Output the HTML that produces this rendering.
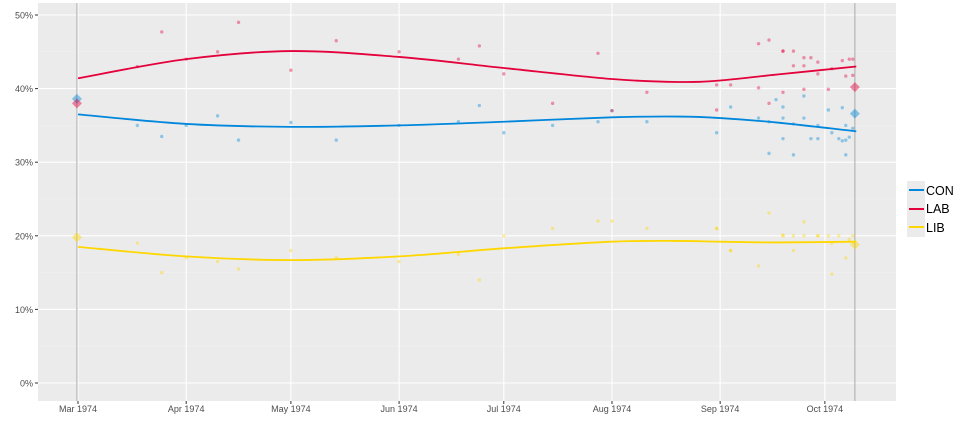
<!DOCTYPE html>
<html><head><meta charset="utf-8"><style>
body{margin:0;background:#fff;font-family:"Liberation Sans",sans-serif}
svg text{font-family:"Liberation Sans",sans-serif}
</style></head><body>
<svg id="chart" width="960" height="427" viewBox="0 0 960 427" xmlns="http://www.w3.org/2000/svg">
<rect x="38" y="3" width="858" height="398" fill="#ebebeb"/>
<g id="grid"></g><g id="marks"></g><g id="axes"></g>
<g>
<rect x="907" y="181" width="18" height="56" fill="#ebebeb"/>
<line x1="909" y1="190" x2="924" y2="190" stroke="#0087DC" stroke-width="2"/>
<line x1="909" y1="209" x2="924" y2="209" stroke="#E4003B" stroke-width="2"/>
<line x1="909" y1="227" x2="924" y2="227" stroke="#FFD700" stroke-width="2"/>
<text x="926" y="195" font-size="12.5">CON</text>
<text x="926" y="213" font-size="12.5">LAB</text>
<text x="926" y="232" font-size="12.5">LIB</text>
</g>
</svg>
<script>
// days since 1 Mar 1974
const monthLabels=["Mar 1974","Apr 1974","May 1974","Jun 1974","Jul 1974","Aug 1974","Sep 1974","Oct 1974"];
const monthDays=[0,31,61,92,122,153,184,214];
const yTicks=[0,10,20,30,40,50];
const electionDays=[-0.3,222.6];
const trendDays=[0,31,61,92,122,153,172,184,200,223];
const conTrend=[36.5,35.2,34.8,35.0,35.5,36.1,36.2,36.0,35.4,34.2];
const labTrend=[41.4,44.0,45.1,44.3,42.8,41.3,40.9,41.1,41.9,43.0];
const libTrend=[18.5,17.2,16.7,17.2,18.3,19.2,19.3,19.2,19.1,19.2];
const pollDays=[17,24,31,40,46,61,74,92,109,115,122,136,149,153,163,183,187,195,198,202,205,208,212,216,220,222];
const conPolls=[35,33.5,35,36.3,33,35.4,33,35,35.5,37.7,34,35,35.5,37,35.5,34,37.5,36,31.2,33.2,31,36,35,34,33,34.6];
const labPolls=[43,47.7,44,45,49,42.5,46.5,45,44,45.8,42,38,44.8,37,39.5,40.5,40.5,46.1,46.6,45.1,43.1,44.2,43.6,42.7,41.7,44];
const libPolls=[19,15,17,16.5,15.5,18,17,16.5,17.5,14,20,21,22,22,21,21,18,15.9,23.1,20.1,18,21.9,20,14.8,17,20];
const conExtra=[[202,37.5],[202,36],[205,35.2],[208,39],[210,33.2],[212,33.2],[215,37.1],[218,33.2],[219,32.9],[220,31],[219,37.4],[221,33.4],[220,35],[198,35.5],[200,38.5]];
const labExtra=[[183,37.1],[198,38],[202,39.5],[208,39.9],[215,39.9],[202,45.1],[205,45.1],[210,44.2],[212,42],[219,43.8],[221,44],[208,43.1],[222,41.8],[195,40.1]];
const libExtra=[[183,21],[187,18],[202,20],[205,20],[208,20],[215,20],[218,20],[216,19],[221,19.5],[212,20]];
const electCon=[38.6,36.6], electLab=[38.0,40.2], electLib=[19.8,18.8];

const X=d=>78+d*3.49, Y=v=>383-v*7.36;
const NS="http://www.w3.org/2000/svg";
function mk(tag,attrs,parent){const e=document.createElementNS(NS,tag);for(const k in attrs)e.setAttribute(k,attrs[k]);parent.appendChild(e);return e;}
const grid=document.getElementById('grid'),marks=document.getElementById('marks'),axes=document.getElementById('axes');
yTicks.forEach((t,i)=>{
  if(i<yTicks.length-1){mk('line',{x1:38,x2:896,y1:Y(t+5),y2:Y(t+5),stroke:'#f2f2f2','stroke-width':0.5},grid);}
  const g=mk('line',{x1:38,x2:896,y1:Y(t),y2:Y(t),stroke:'#fff','stroke-width':1.1},grid);
  
  
  mk('line',{x1:35,x2:38,y1:Y(t),y2:Y(t),stroke:'#333'},axes);
  const tx=mk('text',{x:33,y:Y(t)+3.5,'font-size':9,'text-anchor':'end',fill:'#4d4d4d'},axes);
  tx.textContent=t+'%';
  
  
});
monthDays.forEach((d,i)=>{
  const g=mk('line',{x1:X(d),x2:X(d),y1:3,y2:401,stroke:'#fff','stroke-width':1.1},grid);
  
  
  mk('line',{x1:X(d),x2:X(d),y1:401,y2:404,stroke:'#333'},axes);
  const tx=mk('text',{x:X(d),y:412,'font-size':9,'text-anchor':'middle',fill:'#4d4d4d'},axes);
  tx.textContent=monthLabels[i];
  
  
});
electionDays.forEach(d=>{
  const l=mk('line',{x1:X(d),x2:X(d),y1:3,y2:401,stroke:'#aaa','stroke-width':1},grid);
  
  
});
function pts(days,vals,extra,col,name){
  const arr=days.map((d,i)=>[d,vals[i]]).concat(extra);
  arr.forEach(p=>{
    const c=mk('circle',{cx:X(p[0]),cy:Y(p[1]),r:1.7,fill:col,opacity:0.4},marks);
    
    
  });
}
pts(pollDays,conPolls,conExtra,'#0087DC','con');
pts(pollDays,labPolls,labExtra,'#E4003B','lab');
pts(pollDays,libPolls,libExtra,'#FFD700','lib');
function curve(vals,col,name){
  const p=trendDays.map((d,i)=>[X(d),Y(vals[i])]);
  let s='M'+p[0][0]+','+p[0][1];
  for(let i=0;i<p.length-1;i++){
    const p0=p[Math.max(0,i-1)],p1=p[i],p2=p[i+1],p3=p[Math.min(p.length-1,i+2)];
    s+=' C'+(p1[0]+(p2[0]-p0[0])/6)+','+(p1[1]+(p2[1]-p0[1])/6)+' '+(p2[0]-(p3[0]-p1[0])/6)+','+(p2[1]-(p3[1]-p1[1])/6)+' '+p2[0]+','+p2[1];
  }
  const e=mk('path',{d:s,fill:'none',stroke:col,'stroke-width':1.8},marks);
  
  
}
curve(conTrend,'#0087DC','con');curve(labTrend,'#E4003B','lab');curve(libTrend,'#FFD700','lib');
function elect(vals,col,name){
  vals.forEach((v,i)=>{
    const x=X(electionDays[i]),y=Y(v);
    const d=mk('polygon',{points:`${x},${y-5} ${x+5},${y} ${x},${y+5} ${x-5},${y}`,fill:col,opacity:0.45},marks);
    
    
  });
}
elect(electCon,'#0087DC','con');elect(electLab,'#E4003B','lab');elect(electLib,'#FFD700','lib');
</script>
</body></html>
